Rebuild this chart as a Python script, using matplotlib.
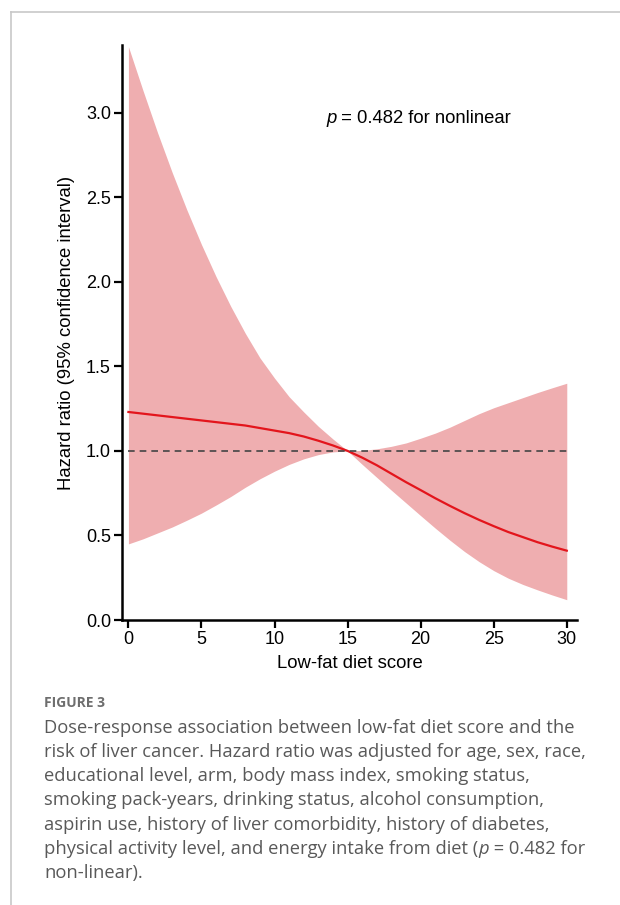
import matplotlib
matplotlib.use("Agg")
import matplotlib.pyplot as plt
from matplotlib.lines import Line2D

# Low-fat diet score (0-30) and hazard ratio with 95% CI
score = list(range(0, 31))
hr = [1.23, 1.22, 1.21, 1.20, 1.19, 1.18, 1.17, 1.16, 1.15, 1.135, 1.12,
      1.105, 1.085, 1.06, 1.032, 1.00, 0.96, 0.915, 0.865, 0.815, 0.768,
      0.72, 0.675, 0.632, 0.592, 0.555, 0.52, 0.49, 0.46, 0.434, 0.41]
ci_upper = [3.39, 3.13, 2.88, 2.645, 2.425, 2.22, 2.03, 1.855, 1.695, 1.55, 1.43,
            1.32, 1.23, 1.145, 1.07, 1.00, 1.003, 1.012, 1.027, 1.047, 1.075,
            1.105, 1.14, 1.18, 1.22, 1.255, 1.285, 1.315, 1.345, 1.373, 1.40]
ci_lower = [0.45, 0.48, 0.515, 0.55, 0.59, 0.632, 0.68, 0.73, 0.785, 0.835, 0.88,
            0.92, 0.953, 0.978, 0.994, 1.00, 0.92, 0.843, 0.767, 0.692, 0.617,
            0.543, 0.472, 0.405, 0.345, 0.292, 0.247, 0.21, 0.178, 0.148, 0.12]
xticks = [0, 5, 10, 15, 20, 25, 30]
yticks = [0.0, 0.5, 1.0, 1.5, 2.0, 2.5, 3.0]

p_text = " = 0.482 for nonlinear"
caption_title = "FIGURE 3"
caption_lines = [
    "Dose-response association between low-fat diet score and the",
    "risk of liver cancer. Hazard ratio was adjusted for age, sex, race,",
    "educational level, arm, body mass index, smoking status,",
    "smoking pack-years, drinking status, alcohol consumption,",
    "aspirin use, history of liver comorbidity, history of diabetes,",
    "physical activity level, and energy intake from diet (",
    "non-linear).",
]

plot_font = ["Liberation Sans", "DejaVu Sans"]
cap_font = ["Open Sans", "DejaVu Sans"]

W, H = 620, 905
fig = plt.figure(figsize=(W / 100, H / 100), dpi=100)

ax = fig.add_axes([122 / W, (H - 620) / H, 455 / W, 575 / H])
ax.fill_between(score, ci_lower, ci_upper, color="#efaeb0", linewidth=0)
ax.plot(score, hr, color="#e3151c", linewidth=1.6)
ax.axhline(1.0, xmin=(0 + 0.44) / 31.14, xmax=(30 + 0.44) / 31.14,
           color="#444444", linewidth=1.2, linestyle=(0, (4, 3)))

ax.set_xlim(-0.44, 30.7)
ax.set_ylim(0, 3.40)
ax.set_xticks(xticks)
ax.set_yticks(yticks)
ax.set_xticklabels([str(t) for t in xticks], family=plot_font, fontsize=13)
ax.set_yticklabels([f"{t:.1f}" for t in yticks], family=plot_font, fontsize=13)
for side in ["top", "right"]:
    ax.spines[side].set_visible(False)
for side in ["left", "bottom"]:
    ax.spines[side].set_linewidth(1.8)
ax.tick_params(axis="both", length=6, width=1.6, color="black", pad=2)
ax.set_xlabel("Low-fat diet score", family=plot_font, fontsize=13.3, labelpad=5)
ax.set_ylabel("Hazard ratio (95% confidence interval)", family=plot_font,
              fontsize=13.3, labelpad=8)

# p-value note: italic p followed by the rest
fig.canvas.draw()
renderer = fig.canvas.get_renderer()


def italic_p_then(x, y, rest, family, size, color):
    t = fig.text(x / W, 1 - y / H, "p", family=family, fontsize=size,
                 style="italic", color=color, va="center", ha="left")
    bb = t.get_window_extent(renderer)
    fig.text(bb.x1 / W, 1 - y / H, rest, family=family, fontsize=size,
             color=color, va="center", ha="left")


italic_p_then(326, 118, p_text, plot_font, 13.3, "black")

# caption
cap_color = "#595959"
cap_size = 13.2
fig.text(44 / W, 1 - 703 / H, caption_title, family=cap_font, fontsize=10,
         fontweight="bold", color="#6e6e6e", va="center", ha="left")
line_y = [728, 752, 776, 800, 825, 849, 873]
for i, (line, y) in enumerate(zip(caption_lines, line_y)):
    t = fig.text(44 / W, 1 - y / H, line, family=cap_font, fontsize=cap_size,
                 color=cap_color, va="center", ha="left")
    if i == 5:
        bb = t.get_window_extent(renderer)
        italic_p_then(bb.x1, y, " = 0.482 for", cap_font, cap_size, cap_color)

# page frame
fig.add_artist(Line2D([11 / W, 11 / W], [0, 1 - 12 / H], color="#c8c8c8",
                      linewidth=1.2, transform=fig.transFigure))
fig.add_artist(Line2D([11 / W, 1], [1 - 12 / H, 1 - 12 / H], color="#c8c8c8",
                      linewidth=1.2, transform=fig.transFigure))

fig.savefig("out.png", dpi=100)
plt.close(fig)
